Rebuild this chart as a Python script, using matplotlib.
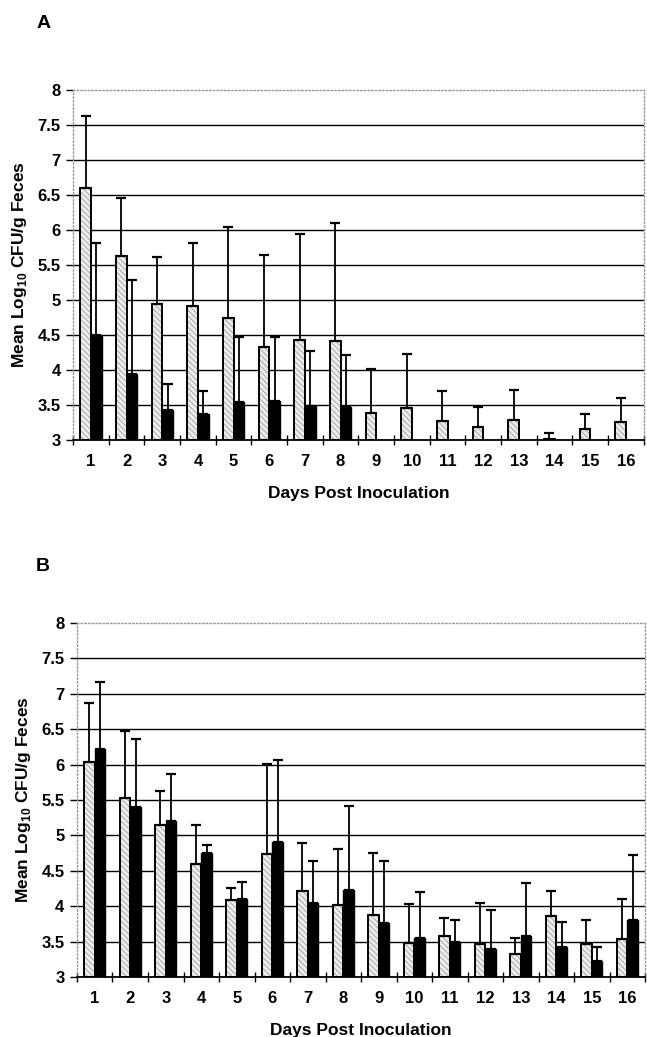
import numpy as np
import matplotlib.pyplot as plt

plt.rcParams['font.family'] = ['Liberation Sans', 'DejaVu Sans']
plt.rcParams['font.weight'] = 'bold'
plt.rcParams['mathtext.fontset'] = 'custom'
plt.rcParams['mathtext.rm'] = 'Liberation Sans:bold'
plt.rcParams['mathtext.bf'] = 'Liberation Sans:bold'
plt.rcParams['hatch.linewidth'] = 0.7

days = np.arange(1, 17)

# panel A
a_open = [6.60, 5.63, 4.95, 4.92, 4.74, 4.33, 4.43, 4.42, 3.39, 3.46, 3.27, 3.19, 3.28, 3.01, 3.16, 3.25]
a_open_top = [7.63, 6.46, 5.62, 5.82, 6.04, 5.65, 5.94, 6.10, 4.02, 4.23, 3.70, 3.47, 3.72, 3.10, 3.37, 3.60]
a_solid = [4.50, 3.94, 3.43, 3.37, 3.55, 3.56, 3.49, 3.47]
a_solid_top = [5.82, 5.29, 3.80, 3.70, 4.47, 4.47, 4.27, 4.22]

# panel B
b_open = [6.04, 5.53, 5.15, 4.59, 4.09, 4.73, 4.22, 4.01, 3.88, 3.48, 3.58, 3.47, 3.33, 3.86, 3.47, 3.54]
b_open_top = [6.87, 6.48, 5.63, 5.14, 4.26, 6.01, 4.89, 4.81, 4.75, 4.03, 3.83, 4.04, 3.55, 4.21, 3.80, 4.10]
b_solid = [6.22, 5.40, 5.20, 4.75, 4.10, 4.90, 4.05, 4.23, 3.76, 3.55, 3.49, 3.40, 3.58, 3.42, 3.22, 3.80]
b_solid_top = [7.16, 6.36, 5.86, 4.87, 4.34, 6.06, 4.64, 5.41, 4.64, 4.20, 3.80, 3.95, 4.32, 3.78, 3.43, 4.72]

base = 3.0
w = 0.3


def draw_panel(ax, op, op_top, so, so_top):
    x = days[:len(op)]
    ax.set_xlim(0.5, 16.5)
    ax.set_ylim(3, 8)
    for g in np.arange(3.5, 8.0, 0.5):
        ax.axhline(g, color='black', lw=1.0, zorder=1)
    xo = x - w / 2
    h = np.array(op) - base
    ax.bar(xo, h, w, bottom=base, color='#ededed', hatch='\\\\\\\\\\\\',
           edgecolor='#a8a8a8', lw=0, zorder=2)
    ax.bar(xo, h, w, bottom=base, fill=False, edgecolor='black', lw=1.4, zorder=3)
    ax.errorbar(xo, op, yerr=[np.zeros(len(op)), np.array(op_top) - np.array(op)],
                fmt='none', ecolor='black', elinewidth=1.3, capsize=3.5, capthick=1.6, zorder=4)
    xs = days[:len(so)] + w / 2
    ax.bar(xs, np.array(so) - base, w, bottom=base, color='black', edgecolor='black',
           lw=1.0, zorder=3)
    ax.errorbar(xs, so, yerr=[np.zeros(len(so)), np.array(so_top) - np.array(so)],
                fmt='none', ecolor='black', elinewidth=1.3, capsize=3.5, capthick=1.6, zorder=4)

    for s in ['top', 'right', 'left']:
        ax.spines[s].set_color('#9a9a9a')
        ax.spines[s].set_linestyle(':')
        ax.spines[s].set_linewidth(1.0)
    ax.spines['bottom'].set_linewidth(1.3)

    ax.set_yticks(np.arange(3, 8.01, 0.5))
    ax.set_yticklabels(['3', '3.5', '4', '4.5', '5', '5.5', '6', '6.5', '7', '7.5', '8'])
    ax.set_xticks(days)
    ax.set_xticklabels([str(d) for d in days])
    ax.set_xticks(np.arange(0.5, 16.6, 1), minor=True)
    ax.tick_params(axis='x', which='major', length=0, pad=10, labelsize=12)
    ax.tick_params(axis='x', which='minor', length=7, direction='inout', width=1.0)
    ax.tick_params(axis='y', length=5, width=1.0, labelsize=12, pad=4)
    ax.set_ylabel('Mean Log$_{10}$ CFU/g Feces', fontsize=12.5, fontweight='bold', labelpad=6)
    ax.set_xlabel('Days Post Inoculation', fontsize=12.5, fontweight='bold', labelpad=12)


fig = plt.figure(figsize=(6.47, 10.37), dpi=100)
ax1 = fig.add_axes([0.113, 0.5757, 0.882, 0.3375])
ax2 = fig.add_axes([0.119, 0.0579, 0.878, 0.3414])
draw_panel(ax1, a_open, a_open_top, a_solid, a_solid_top)
draw_panel(ax2, b_open, b_open_top, b_solid, b_solid_top)
fig.text(0.056, 0.977, 'A', fontsize=14, fontweight='bold', va='center')
fig.text(0.056, 0.454, 'B', fontsize=14, fontweight='bold', va='center')

fig.savefig('out.png', dpi=100)
